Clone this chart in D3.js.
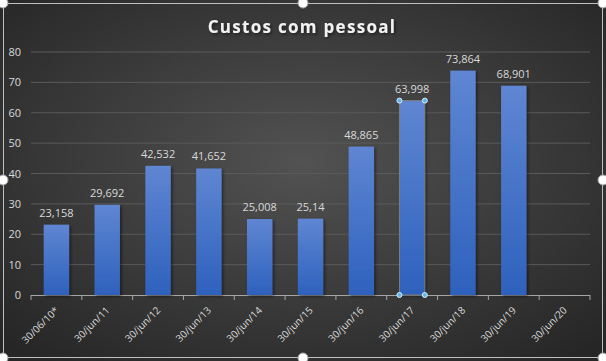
<!DOCTYPE html>
<html>
<head>
<meta charset="utf-8">
<script src="https://cdn.jsdelivr.net/npm/d3@7"></script>
<style>
  body { margin: 0; background: #fff; }
  svg { display: block; }
</style>
</head>
<body>
<div id="chart-area"></div>
<script>
// data
const categories = ['30/06/10*', '30/jun/11', '30/jun/12', '30/jun/13', '30/jun/14', '30/jun/15',
  '30/jun/16', '30/jun/17', '30/jun/18', '30/jun/19', '30/jun/20'];
const values = [23.158, 29.692, 42.532, 41.652, 25.008, 25.14, 48.865, 63.998, 73.864, 68.901, null];
const valueLabels = ['23,158', '29,692', '42,532', '41,652', '25,008', '25,14', '48,865', '63,998', '73,864', '68,901', ''];
const yTicks = [0, 10, 20, 30, 40, 50, 60, 70, 80];
const selectedIndex = 7;

const W = 606, H = 361;
const margin = { left: 31, right: 16, top: 52, bottom: 66 };
const width = W - margin.left - margin.right;
const height = H - margin.top - margin.bottom;

const svg = d3.select('#chart-area').append('svg')
  .attr('width', W)
  .attr('height', H);

const defs = svg.append('defs');

// background gradient
const bg = defs.append('radialGradient')
  .attr('id', 'bg')
  .attr('cx', '50%').attr('cy', '45%').attr('r', '70%');
bg.append('stop').attr('offset', '0%').attr('stop-color', '#525252');
bg.append('stop').attr('offset', '100%').attr('stop-color', '#262626');

const barGrad = defs.append('linearGradient')
  .attr('id', 'barGrad')
  .attr('x1', 0).attr('y1', 0).attr('x2', 0).attr('y2', 1);
barGrad.append('stop').attr('offset', '0%').attr('stop-color', '#5f86d2');
barGrad.append('stop').attr('offset', '100%').attr('stop-color', '#2e61bd');

const shadow = defs.append('filter').attr('id', 'shadow')
  .attr('x', '-20%').attr('y', '-20%').attr('width', '150%').attr('height', '150%');
shadow.append('feDropShadow')
  .attr('dx', 1.5).attr('dy', 1.5).attr('stdDeviation', 1.5)
  .attr('flood-color', '#000').attr('flood-opacity', 0.5);

svg.append('rect')
  .attr('x', 0).attr('y', 0)
  .attr('width', W).attr('height', H)
  .attr('fill', 'url(#bg)');

// chart border
svg.append('rect')
  .attr('x', 3.5).attr('y', 3.5)
  .attr('width', W - 7).attr('height', H - 7)
  .attr('fill', 'none')
  .attr('stroke', '#bfbfbf')
  .attr('stroke-width', 1);

// title
svg.append('text')
  .attr('x', 302)
  .attr('y', 33)
  .attr('text-anchor', 'middle')
  .attr('font-family', 'Open Sans, sans-serif')
  .attr('font-weight', 'bold')
  .attr('font-size', '17px')
  .attr('letter-spacing', '1.3px')
  .attr('fill', '#f2f2f2')
  .attr('filter', 'url(#shadow)')
  .text('Custos com pessoal');

const g = svg.append('g')
  .attr('transform', `translate(${margin.left}, ${margin.top})`);

const x = d3.scaleBand()
  .domain(categories)
  .range([0, width])
  .paddingInner(0.5)
  .paddingOuter(0.25);

const y = d3.scaleLinear()
  .domain([0, 80])
  .range([height, 0]);

// gridlines
g.append('g')
  .selectAll('line')
  .data(yTicks.filter(d => d > 0))
  .enter().append('line')
    .attr('x1', 0).attr('x2', width)
    .attr('y1', d => y(d)).attr('y2', d => y(d))
    .attr('stroke', '#5a5a5a')
    .attr('stroke-width', 1);

// y axis labels
const yAxisCall = d3.axisLeft(y).tickValues(yTicks).tickSize(0).tickPadding(10);
const yAxis = g.append('g').call(yAxisCall);
yAxis.select('.domain').remove();
yAxis.selectAll('text')
  .attr('font-family', 'Open Sans, sans-serif')
  .attr('font-size', '11px')
  .attr('fill', '#d9d9d9');

// x axis with tick marks between categories
g.append('line')
  .attr('x1', 0).attr('x2', width)
  .attr('y1', height + 0.5).attr('y2', height + 0.5)
  .attr('stroke', '#a6a6a6');
g.append('g')
  .selectAll('line')
  .data(d3.range(categories.length + 1))
  .enter().append('line')
    .attr('x1', i => i * width / categories.length)
    .attr('x2', i => i * width / categories.length)
    .attr('y1', height).attr('y2', height + 5)
    .attr('stroke', '#a6a6a6');

g.append('g')
  .selectAll('text')
  .data(categories)
  .enter().append('text')
    .attr('transform', d => `translate(${x(d) + x.bandwidth() / 2 + 3}, ${height + 16}) rotate(-45)`)
    .attr('text-anchor', 'end')
    .attr('font-family', 'Open Sans, sans-serif')
    .attr('font-size', '10px')
    .attr('fill', '#d9d9d9')
    .text(d => d);

// bars
const data = categories.map((c, i) => ({ name: c, value: values[i], label: valueLabels[i] }))
  .filter(d => d.value != null);

g.selectAll('rect.bar')
  .data(data)
  .enter().append('rect')
    .attr('class', 'bar')
    .attr('x', d => x(d.name))
    .attr('y', d => y(d.value))
    .attr('width', x.bandwidth())
    .attr('height', d => height - y(d.value))
    .attr('fill', 'url(#barGrad)')
    .attr('filter', 'url(#shadow)');

// data labels
g.selectAll('text.label')
  .data(data)
  .enter().append('text')
    .attr('class', 'label')
    .attr('x', d => x(d.name) + x.bandwidth() / 2)
    .attr('y', d => y(d.value) - 8)
    .attr('text-anchor', 'middle')
    .attr('font-family', 'Open Sans, sans-serif')
    .attr('font-size', '11px')
    .attr('fill', '#d9d9d9')
    .text(d => d.label);

// selected bar outline + handles
const sel = data[selectedIndex];
const sx0 = x(sel.name), sx1 = sx0 + x.bandwidth();
const sy0 = y(sel.value), sy1 = height;
g.append('rect')
  .attr('x', sx0).attr('y', sy0)
  .attr('width', x.bandwidth()).attr('height', sy1 - sy0)
  .attr('fill', 'none')
  .attr('stroke', '#7f7f7f');
g.append('g')
  .selectAll('circle')
  .data([[sx0, sy0], [sx1, sy0], [sx0, sy1], [sx1, sy1]])
  .enter().append('circle')
    .attr('cx', d => d[0]).attr('cy', d => d[1])
    .attr('r', 2.5)
    .attr('fill', '#5fb4f0')
    .attr('stroke', '#d8eefc')
    .attr('stroke-width', 1);

// chart selection handles
const handles = [[3, 3], [303, 3], [603, 3], [3, 180], [603, 180], [3, 358], [303, 358], [603, 358]];
svg.append('g')
  .selectAll('circle')
  .data(handles)
  .enter().append('circle')
    .attr('cx', d => d[0]).attr('cy', d => d[1])
    .attr('r', 5)
    .attr('fill', '#ffffff')
    .attr('stroke', '#a0a0a0')
    .attr('stroke-width', 1);
</script>
</body>
</html>
